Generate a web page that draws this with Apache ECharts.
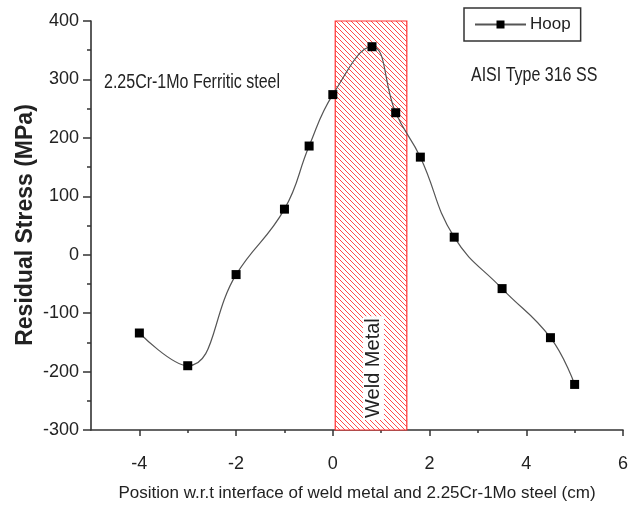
<!DOCTYPE html>
<html><head><meta charset="utf-8">
<script src="https://cdn.jsdelivr.net/npm/echarts@6/dist/echarts.min.js"></script>
<style>html,body{margin:0;padding:0;background:#fff}#c{width:637px;height:507px}</style>
</head><body><div id="c"></div>
<script>
const positions = [-4, -3, -2, -1, -0.49, 0, 0.81, 1.30, 1.81, 2.51, 3.50, 4.50, 5.0];
const hoop = [-134, -190, -34, 78, 186, 274, 356, 243, 167, 30, -58, -142, -222];
const weldRange = [0.05, 1.53];
const xTicks = [-4, -2, 0, 2, 4, 6];
const xMinorTicks = [-3, -1, 1, 3, 5];

const FONT = '"Liberation Sans", Arial, sans-serif';
const AX = '#333';

function hatch() {
  const s = 5, c = document.createElement('canvas');
  c.width = s; c.height = s;
  const g = c.getContext('2d');
  g.fillStyle = '#ffffff'; g.fillRect(0, 0, s, s);
  g.strokeStyle = '#ff4a4a'; g.lineWidth = 1;
  for (const k of [-s, 0, s]) { g.beginPath(); g.moveTo(k, 0); g.lineTo(k + s, s); g.stroke(); }
  return c;
}

const chart = echarts.init(document.getElementById('c'));
const data = positions.map((x, i) => [x, hoop[i]]);
chart.setOption({
  animation: false,
  backgroundColor: '#fff',
  grid: { left: 91, right: 14, top: 21, bottom: 77 },
  xAxis: [{
    type: 'value', min: -5, max: 6, interval: 1,
    axisLine: { onZero: false, lineStyle: { color: AX, width: 1.6 } },
    axisTick: { show: true, length: 6, customValues: xTicks, lineStyle: { color: AX, width: 1.5 } },
    splitLine: { show: false },
    axisLabel: { margin: 25, fontSize: 18, color: '#222', fontFamily: FONT, customValues: xTicks },
    name: 'Position w.r.t interface of weld metal and 2.25Cr-1Mo steel (cm)',
    nameLocation: 'middle', nameGap: 55,
    nameTextStyle: { fontSize: 17, color: '#222', fontFamily: FONT }
  }, {
    type: 'value', min: -5, max: 6, interval: 1, position: 'bottom',
    axisLine: { show: false, onZero: false },
    axisTick: { show: true, length: 3, customValues: xMinorTicks, lineStyle: { color: AX, width: 1.5 } },
    axisLabel: { show: false },
    splitLine: { show: false }
  }],
  yAxis: {
    type: 'value', min: -300, max: 400, interval: 100,
    axisLine: { show: true, onZero: false, lineStyle: { color: AX, width: 1.6 } },
    axisTick: { show: true, length: 8, lineStyle: { color: AX, width: 1.5 } },
    minorTick: { show: true, splitNumber: 2, length: 4, lineStyle: { color: AX, width: 1.5 } },
    splitLine: { show: false },
    minorSplitLine: { show: false },
    axisLabel: { margin: 12, fontSize: 18, color: '#222', fontFamily: FONT }
  },
  legend: {
    left: 464, top: 8,
    borderColor: AX, borderWidth: 1.5, padding: [8, 10, 8, 10],
    itemWidth: 51, itemHeight: 10, itemGap: 8,
    textStyle: { fontSize: 17, color: '#222', fontFamily: FONT, padding: [0, 0, 0, -1] },
    data: ['Hoop']
  },
  series: [{
    name: 'Hoop', type: 'line', smooth: 0.45,
    data: data,
    symbol: 'rect', symbolSize: 9,
    itemStyle: { color: '#000' },
    lineStyle: { color: '#555', width: 1.2 },
    z: 5,
    markArea: {
      silent: true,
      itemStyle: { color: { image: hatch(), repeat: 'repeat' }, borderColor: '#ff3030', borderWidth: 1.2 },
      data: [[{ xAxis: weldRange[0], yAxis: 400 }, { xAxis: weldRange[1], yAxis: -300 }]]
    }
  }]
});

const p1 = chart.convertToPixel({ gridIndex: 0 }, [(weldRange[0] + weldRange[1]) / 2 + 0.05, -194]);
chart.setOption({
  graphic: [
    { type: 'text', x: 104, y: 82, scaleY: 1.25, style: { text: '2.25Cr-1Mo Ferritic steel', font: '16px ' + FONT, fill: '#222', verticalAlign: 'middle' } },
    { type: 'text', x: 471, y: 75, scaleY: 1.25, style: { text: 'AISI Type 316 SS', font: '16px ' + FONT, fill: '#222', verticalAlign: 'middle' } },
    { type: 'text', x: p1[0], y: p1[1], rotation: Math.PI / 2, z: 20,
      style: { text: 'Weld Metal', font: '20px ' + FONT, fill: '#222',
        align: 'center', verticalAlign: 'middle', backgroundColor: '#fff', padding: [1, 2, 0, 2] } },
    { type: 'text', x: 26, y: 225, rotation: Math.PI / 2, z: 20,
      style: { text: 'Residual Stress (MPa)', font: 'bold 23px ' + FONT, fill: '#222',
        align: 'center', verticalAlign: 'middle' } }
  ]
});
</script></body></html>
